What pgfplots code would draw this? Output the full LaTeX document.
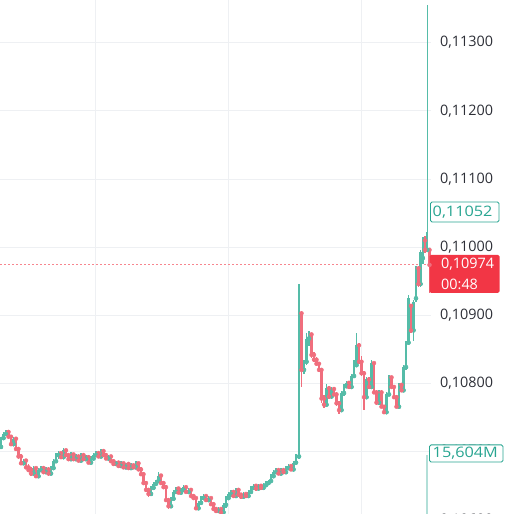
\documentclass[border=0pt]{standalone}
\usepackage{pgfplots}
\pgfplotsset{compat=1.18}
\usepackage{pgfplotstable}
\usepackage{fontspec}
\setmainfont{Open Sans}
\definecolor{upc}{RGB}{85,188,168}
\definecolor{dnc}{RGB}{240,110,125}
\definecolor{gridc}{RGB}{238,240,243}
\definecolor{txtc}{RGB}{45,47,55}
\definecolor{lblteal}{RGB}{40,165,145}
\definecolor{lblred}{RGB}{242,54,69}
\definecolor{volc}{RGB}{178,223,216}
\newcommand\lblfont{\fontsize{14.4}{16}\selectfont}
% rising candles: x open high low close
\pgfplotstableread{
x o h l c
1 0.10707 0.10722 0.10704 0.10720
3.5 0.10720 0.10729 0.10717 0.10726
6 0.10726 0.10732 0.10723 0.10729
13.5 0.10711 0.10722 0.10710 0.10719
23.5 0.10683 0.10690 0.10680 0.10687
33.5 0.10668 0.10679 0.10667 0.10676
38.5 0.10664 0.10676 0.10661 0.10673
41 0.10673 0.10679 0.10670 0.10676
46 0.10670 0.10677 0.10667 0.10674
51 0.10668 0.10679 0.10667 0.10676
53.5 0.10676 0.10689 0.10673 0.10686
56 0.10686 0.10698 0.10683 0.10695
58.5 0.10695 0.10701 0.10690 0.10698
63.5 0.10692 0.10705 0.10690 0.10702
71 0.10689 0.10699 0.10687 0.10696
76 0.10689 0.10696 0.10687 0.10693
81 0.10687 0.10698 0.10686 0.10695
86 0.10689 0.10695 0.10687 0.10692
91 0.10684 0.10693 0.10683 0.10690
93.5 0.10690 0.10698 0.10687 0.10695
96 0.10695 0.10701 0.10692 0.10698
101 0.10693 0.10704 0.10692 0.10701
108.5 0.10690 0.10695 0.10689 0.10693
116 0.10682 0.10687 0.10680 0.10684
121 0.10679 0.10686 0.10677 0.10683
126 0.10677 0.10684 0.10676 0.10682
131 0.10676 0.10683 0.10674 0.10680
136 0.10677 0.10686 0.10676 0.10683
151 0.10638 0.10650 0.10637 0.10647
153.5 0.10647 0.10656 0.10644 0.10653
156 0.10653 0.10659 0.10650 0.10657
158.5 0.10657 0.10670 0.10654 0.10665
171 0.10620 0.10634 0.10619 0.10631
173.5 0.10631 0.10644 0.10629 0.10641
176 0.10641 0.10648 0.10638 0.10646
181 0.10640 0.10647 0.10638 0.10644
183.5 0.10644 0.10651 0.10641 0.10648
188.5 0.10641 0.10647 0.10640 0.10644
198.5 0.10617 0.10628 0.10616 0.10625
201 0.10625 0.10635 0.10623 0.10632
203.5 0.10632 0.10638 0.10629 0.10635
208.5 0.10629 0.10635 0.10628 0.10632
218.5 0.10613 0.10619 0.10610 0.10616
223.5 0.10611 0.10625 0.10608 0.10622
226 0.10622 0.10635 0.10617 0.10632
228.5 0.10632 0.10641 0.10629 0.10638
231 0.10638 0.10644 0.10634 0.10641
236 0.10635 0.10647 0.10634 0.10644
243.5 0.10634 0.10641 0.10631 0.10638
248.5 0.10635 0.10644 0.10634 0.10641
251 0.10641 0.10650 0.10640 0.10647
253.5 0.10647 0.10653 0.10644 0.10650
258.5 0.10646 0.10653 0.10644 0.10650
263.5 0.10647 0.10654 0.10646 0.10651
266 0.10651 0.10657 0.10650 0.10654
268.5 0.10654 0.10659 0.10653 0.10657
271 0.10657 0.10667 0.10654 0.10664
273.5 0.10664 0.10673 0.10661 0.10670
276 0.10670 0.10676 0.10667 0.10673
281 0.10668 0.10676 0.10667 0.10673
286 0.10670 0.10679 0.10668 0.10676
288.5 0.10676 0.10682 0.10674 0.10679
293.5 0.10674 0.10687 0.10673 0.10684
296 0.10684 0.10696 0.10683 0.10693
299 0.10693 0.10946 0.10690 0.10903
304 0.10820 0.10835 0.10814 0.10832
306.5 0.10832 0.10874 0.10827 0.10866
309 0.10866 0.10877 0.10855 0.10872
326.5 0.10769 0.10799 0.10765 0.10793
331.5 0.10781 0.10795 0.10778 0.10792
341.5 0.10761 0.10789 0.10758 0.10786
344 0.10786 0.10799 0.10781 0.10796
346.5 0.10796 0.10804 0.10793 0.10801
351.5 0.10795 0.10814 0.10793 0.10811
354 0.10811 0.10835 0.10808 0.10827
356.5 0.10827 0.10874 0.10824 0.10856
366.5 0.10780 0.10809 0.10777 0.10806
371.5 0.10795 0.10835 0.10792 0.10830
379 0.10772 0.10790 0.10769 0.10787
386.5 0.10758 0.10787 0.10756 0.10784
389 0.10784 0.10812 0.10781 0.10809
399 0.10766 0.10801 0.10764 0.10798
403.5 0.10790 0.10827 0.10787 0.10824
406 0.10824 0.10863 0.10820 0.10860
408.5 0.10860 0.10930 0.10856 0.10925
413.5 0.10878 0.10923 0.10863 0.10920
416 0.10925 0.10972 0.10920 0.10969
420.5 0.10946 0.10996 0.10942 0.10993
422.8 0.10984 0.11015 0.10976 0.11010
427.3 0.10996 0.11355 0.10993 0.11022
}\upcandles
% falling candles: x open high low close
\pgfplotstableread{
x o h l c
8.5 0.10729 0.10731 0.10719 0.10722
11 0.10722 0.10725 0.10708 0.10711
16 0.10719 0.10720 0.10701 0.10704
18.5 0.10704 0.10707 0.10690 0.10693
21 0.10693 0.10696 0.10680 0.10683
26 0.10687 0.10689 0.10674 0.10677
28.5 0.10677 0.10682 0.10670 0.10673
31 0.10673 0.10677 0.10665 0.10668
36 0.10676 0.10677 0.10661 0.10664
43.5 0.10676 0.10677 0.10667 0.10670
48.5 0.10674 0.10677 0.10665 0.10668
61 0.10698 0.10699 0.10689 0.10692
66 0.10702 0.10704 0.10692 0.10695
68.5 0.10695 0.10698 0.10687 0.10689
73.5 0.10696 0.10698 0.10686 0.10689
78.5 0.10693 0.10695 0.10686 0.10687
83.5 0.10695 0.10696 0.10686 0.10689
88.5 0.10692 0.10693 0.10683 0.10684
98.5 0.10698 0.10701 0.10692 0.10693
103.5 0.10701 0.10704 0.10693 0.10695
106 0.10695 0.10698 0.10689 0.10690
111 0.10693 0.10695 0.10684 0.10686
113.5 0.10686 0.10689 0.10680 0.10682
118.5 0.10684 0.10686 0.10677 0.10679
123.5 0.10683 0.10684 0.10676 0.10677
128.5 0.10682 0.10683 0.10674 0.10676
133.5 0.10680 0.10682 0.10674 0.10677
138.5 0.10683 0.10684 0.10673 0.10674
141 0.10674 0.10677 0.10664 0.10667
143.5 0.10667 0.10670 0.10651 0.10654
146 0.10654 0.10657 0.10641 0.10644
148.5 0.10644 0.10647 0.10634 0.10638
161 0.10665 0.10667 0.10651 0.10654
163.5 0.10654 0.10657 0.10645 0.10648
166 0.10648 0.10651 0.10626 0.10629
168.5 0.10629 0.10632 0.10616 0.10620
178.5 0.10646 0.10647 0.10638 0.10640
186 0.10648 0.10650 0.10640 0.10641
191 0.10644 0.10645 0.10634 0.10635
193.5 0.10635 0.10638 0.10629 0.10632
196 0.10632 0.10634 0.10614 0.10617
206 0.10635 0.10637 0.10628 0.10629
211 0.10632 0.10634 0.10620 0.10623
213.5 0.10623 0.10626 0.10613 0.10616
216 0.10616 0.10619 0.10610 0.10613
221 0.10616 0.10617 0.10608 0.10611
233.5 0.10641 0.10643 0.10634 0.10635
238.5 0.10644 0.10645 0.10634 0.10637
241 0.10637 0.10640 0.10631 0.10634
246 0.10638 0.10640 0.10632 0.10635
256 0.10650 0.10651 0.10643 0.10646
261 0.10650 0.10651 0.10644 0.10647
278.5 0.10673 0.10674 0.10667 0.10668
283.5 0.10673 0.10674 0.10667 0.10670
291 0.10679 0.10680 0.10673 0.10674
301.5 0.10903 0.10906 0.10795 0.10820
311.5 0.10872 0.10874 0.10838 0.10842
314 0.10842 0.10846 0.10832 0.10835
316.5 0.10835 0.10839 0.10826 0.10829
319 0.10829 0.10832 0.10817 0.10820
321.5 0.10820 0.10823 0.10772 0.10778
324 0.10778 0.10783 0.10764 0.10769
329 0.10793 0.10796 0.10778 0.10781
334 0.10792 0.10795 0.10781 0.10784
336.5 0.10784 0.10787 0.10767 0.10771
339 0.10771 0.10774 0.10756 0.10761
349 0.10801 0.10804 0.10792 0.10795
359 0.10856 0.10859 0.10829 0.10832
361.5 0.10832 0.10841 0.10811 0.10815
364 0.10815 0.10818 0.10761 0.10780
369 0.10806 0.10809 0.10792 0.10795
374 0.10830 0.10832 0.10784 0.10787
376.5 0.10787 0.10790 0.10769 0.10772
381.5 0.10787 0.10790 0.10764 0.10766
384 0.10766 0.10769 0.10756 0.10758
391.5 0.10809 0.10811 0.10792 0.10795
394 0.10795 0.10798 0.10777 0.10780
396.5 0.10780 0.10783 0.10764 0.10766
401.5 0.10798 0.10801 0.10787 0.10790
411 0.10914 0.10917 0.10874 0.10878
418.5 0.10969 0.10972 0.10942 0.10946
425 0.11010 0.11016 0.10991 0.10996
429.5 0.10996 0.10999 0.10933 0.10974
}\dncandles
\begin{document}
\begin{tikzpicture}
\useasboundingbox (0,0) rectangle (505pt,514pt);
% volume pane
\begin{axis}[at={(0pt,0pt)}, anchor=south west, scale only axis,
  width=431pt, height=514pt, xmin=0, xmax=431, ymin=0, ymax=135.9, hide axis]
\addplot[ycomb, volc, line width=2pt, mark=none] coordinates {(427.3,15.604)};
\end{axis}
% price pane
\begin{axis}[at={(0pt,0pt)}, anchor=south west, scale only axis,
  width=431pt, height=514pt,
  xmin=0, xmax=431, ymin=0.106086, ymax=0.113626,
  clip=false,
  axis line style={draw=none},
  major tick length=0pt,
  xtick={95,228,361}, xticklabels={},
  ytick={0.107,0.108,0.109,0.110,0.111,0.112,0.113},
  scaled y ticks=false,
  xmajorgrids, ymajorgrids,
  major grid style={draw=gridc, line width=1pt},
  yticklabel pos=right,
  yticklabel style={anchor=west, inner sep=0pt, xshift=9pt, text=txtc, font=\lblfont,
    /pgf/number format/fixed, /pgf/number format/fixed zerofill,
    /pgf/number format/precision=5, /pgf/number format/use comma,
    /pgf/number format/assume math mode=true},
]
% current price line
\addplot[lblred!60, line width=1pt, dash pattern=on 2pt off 2pt, forget plot] coordinates {(0,0.10974) (431,0.10974)};
% wicks
\addplot[upc, only marks, mark=none, forget plot,
  error bars/.cd, y dir=both, y explicit, error mark=none,
  error bar style={upc, line width=1.5pt}]
  table[x=x, y=o, y error plus expr=\thisrow{h}-\thisrow{o}, y error minus expr=\thisrow{o}-\thisrow{l}] {\upcandles};
\addplot[dnc, only marks, mark=none, forget plot,
  error bars/.cd, y dir=both, y explicit, error mark=none,
  error bar style={dnc, line width=1.5pt}]
  table[x=x, y=o, y error plus expr=\thisrow{h}-\thisrow{o}, y error minus expr=\thisrow{o}-\thisrow{l}] {\dncandles};
% bodies
\addplot[upc, only marks, mark=none, forget plot,
  error bars/.cd, y dir=plus, y explicit, error mark=none,
  error bar style={upc, line width=2.2pt}]
  table[x=x, y=o, y error plus expr=\thisrow{c}-\thisrow{o}] {\upcandles};
\addplot[dnc, only marks, mark=none, forget plot,
  error bars/.cd, y dir=plus, y explicit, error mark=none,
  error bar style={dnc, line width=2.2pt}]
  table[x=x, y=c, y error plus expr=\thisrow{o}-\thisrow{c}] {\dncandles};
% bottom, partly cut tick label
\node[anchor=west, inner sep=0pt, xshift=9pt, text=txtc, font=\lblfont] at (axis cs:431,0.106) {0,10600};
% price scale labels
\filldraw[fill=white, draw=lblteal, line width=0.9pt, rounded corners=1.5pt]
  (axis cs:430.5,0.110663) rectangle (axis cs:499,0.110370);
\node[anchor=west, inner sep=0pt, text=lblteal, font=\lblfont] at (axis cs:432.5,0.11052) {\scalebox{1.13}[1]{0,11052}};
\fill[lblred, rounded corners=1.5pt] (axis cs:429.5,0.109886) rectangle (axis cs:499.5,0.109328);
\node[anchor=west, inner sep=0pt, text=white, font=\lblfont] at (axis cs:441,0.109754) {0,10974};
\node[anchor=west, inner sep=0pt, text=white, font=\lblfont] at (axis cs:441,0.10946) {00:48};
\filldraw[fill=white, draw=lblteal, line width=0.9pt, rounded corners=1.5pt]
  (axis cs:429.5,0.107099) rectangle (axis cs:503,0.106849);
\node[anchor=west, inner sep=0pt, text=lblteal, font=\lblfont] at (axis cs:432.5,0.106974) {\scalebox{1.13}[1]{15,604M}};
\end{axis}
\end{tikzpicture}
\end{document}
